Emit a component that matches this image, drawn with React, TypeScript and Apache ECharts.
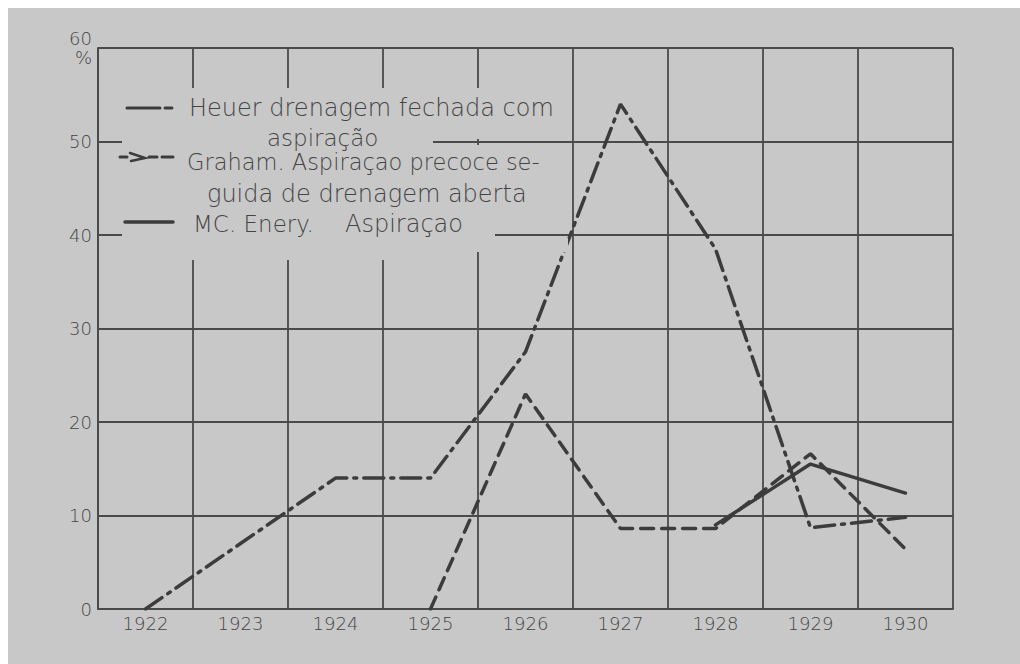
import React, { useEffect, useRef } from "react";
import * as echarts from "echarts";

const years = ["1922", "1923", "1924", "1925", "1926", "1927", "1928", "1929", "1930"];
const heuer = [0, 7, 14, 14, 27.5, 54, 38.5, 8.7, 9.8];
const graham = [null, null, null, 0, 23, 8.6, 8.6, 16.6, 6.4];
const mcEnery = [null, null, null, null, null, null, 9, 15.5, 12.4];
const yTicks = { min: 0, max: 60, interval: 10 };

const legendHeuer = ["Heuer drenagem fechada com", "aspiração"];
const legendGraham = ["Graham. Aspiraçao precoce se-", "guida de drenagem aberta"];
const legendMc = ["MC. Enery.", "Aspiraçao"];

const BG = "#c8c8c8";
const INK = "#3c3c3c";
const TXT = "#444444";
const FONT = "DejaVu Sans";

export default function App() {
  const ref = useRef<HTMLDivElement>(null);
  useEffect(() => {
    if (!ref.current) return;
    const chart = echarts.init(ref.current, undefined, { renderer: "svg" });
    const txt = (text: string, x: number, y: number, size: number) => ({
      type: "text",
      z: 10,
      style: {
        text,
        x,
        y,
        fill: TXT,
        fontSize: size,
        fontFamily: FONT,
        fontWeight: 200,
        align: "left",
        verticalAlign: "middle",
      },
    });
    const cover = (x: number, y: number, width: number, height: number) => ({
      type: "rect",
      z: 5,
      shape: { x, y, width, height },
      style: { fill: BG },
    });
    const seg = (x1: number, y1: number, x2: number, y2: number, w = 3) => ({
      type: "line",
      z: 10,
      shape: { x1, y1, x2, y2 },
      style: { stroke: INK, lineWidth: w, lineCap: "round" },
    });
    chart.setOption({
      animation: false,
      backgroundColor: BG,
      grid: { left: 90, top: 40, right: 67, bottom: 55 },
      xAxis: {
        type: "category",
        data: years,
        boundaryGap: true,
        axisLine: { show: true, lineStyle: { color: "#4a4a4a", width: 1.8 } },
        axisTick: { show: false },
        axisLabel: {
          color: TXT,
          fontSize: 18,
          fontFamily: FONT,
          fontWeight: 200,
          margin: 5,
        },
        splitLine: {
          show: true,
          interval: 0,
          lineStyle: { color: "#4a4a4a", width: 1.8 },
        },
      },
      yAxis: {
        type: "value",
        min: yTicks.min,
        max: yTicks.max,
        interval: yTicks.interval,
        axisLine: { show: true, lineStyle: { color: "#4a4a4a", width: 1.8 } },
        axisTick: { show: false },
        axisLabel: {
          color: TXT,
          fontSize: 18,
          fontFamily: FONT,
          fontWeight: 200,
          margin: 6,
          lineHeight: 19,
          formatter: (v: number) => (v === 60 ? "60\n%" : String(v)),
        },
        splitLine: { show: true, lineStyle: { color: "#4a4a4a", width: 1.8 } },
      },
      series: [
        {
          name: "Heuer",
          type: "line",
          data: heuer,
          showSymbol: false,
          symbol: "none",
          lineStyle: { color: INK, width: 3.5, type: [20, 7, 3, 7], cap: "round" },
        },
        {
          name: "Graham",
          type: "line",
          data: graham,
          showSymbol: false,
          symbol: "none",
          lineStyle: { color: INK, width: 3.5, type: [13, 8], cap: "round" },
        },
        {
          name: "McEnery",
          type: "line",
          data: mcEnery,
          showSymbol: false,
          symbol: "none",
          lineStyle: { color: INK, width: 3.5, type: "solid", cap: "round" },
        },
      ],
      graphic: [
        cover(114, 80, 311, 172),
        cover(425, 80, 135, 51),
        cover(425, 137, 135, 86),
        cover(425, 223, 62, 21),
        cover(487, 230, 73, 14),
        seg(119, 100, 152, 100, 3),
        seg(157, 100, 164, 100, 3),
        seg(112, 149, 119, 149, 3),
        {
          type: "polyline",
          z: 10,
          shape: { points: [[122, 145], [137, 150], [123, 153]] },
          style: { stroke: INK, lineWidth: 2.5, fill: "none", lineCap: "round" },
        },
        seg(141, 149, 149, 149, 3),
        seg(154, 149, 165, 149, 3),
        seg(117, 214, 165, 214, 3.5),
        txt(legendHeuer[0], 181, 100, 24),
        txt(legendHeuer[1], 259, 130, 23),
        txt(legendGraham[0], 179, 154, 22.5),
        txt(legendGraham[1], 199, 186, 24),
        txt(legendMc[0], 185, 216, 23),
        txt(legendMc[1], 337, 216, 24),
      ],
    });
    return () => chart.dispose();
  }, []);
  return (
    <div
      ref={ref}
      style={{ position: "fixed", left: 8, top: 8, width: 1012, height: 656, background: BG }}
    />
  );
}
